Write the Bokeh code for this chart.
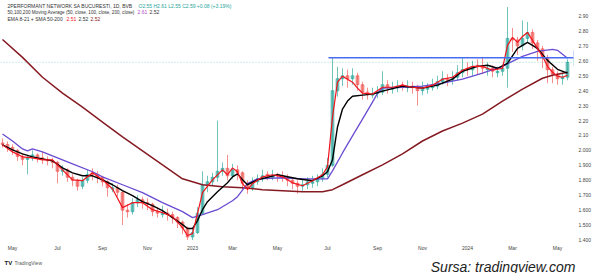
from bokeh.plotting import figure
from bokeh.layouts import column
from bokeh.models import Range1d, FixedTicker, Label, Span, ColumnDataSource
from bokeh.core.properties import value
from bokeh.embed import file_html
from bokeh.resources import INLINE

# ---- weekly-sampled candles (index 0 = mid April 2022, last = May 2024) ----
opens = [2.05,2.04,2.02,2.00,1.96,1.94,1.95,1.97,1.95,1.94,
         1.93,1.92,1.86,1.87,1.82,1.80,1.76,1.80,1.85,1.84,
         1.82,1.79,1.74,1.75,1.72,1.60,1.59,1.65,1.67,1.65,
         1.64,1.59,1.57,1.58,1.57,1.55,1.52,1.48,1.42,1.45,
         1.58,1.77,1.79,1.82,1.86,1.88,1.83,1.87,1.85,1.78,
         1.75,1.79,1.81,1.84,1.82,1.84,1.83,1.82,1.80,1.78,
         1.76,1.77,1.78,1.79,1.81,1.84,1.90,2.40,2.48,2.50,
         2.48,2.50,2.44,2.39,2.37,2.38,2.39,2.44,2.41,2.42,
         2.44,2.42,2.43,2.42,2.40,2.41,2.42,2.43,2.46,2.48,
         2.47,2.49,2.52,2.55,2.54,2.57,2.56,2.54,2.55,2.52,
         2.53,2.55,2.75,2.74,2.70,2.75,2.79,2.72,2.68,2.62,
         2.54,2.51,2.48,2.49]
highs = [2.08,2.06,2.04,2.01,1.98,1.97,2.00,1.98,1.99,1.96,
         1.95,1.93,1.90,1.88,1.84,1.81,1.82,1.87,1.88,1.86,
         1.83,1.80,1.78,1.77,1.73,1.64,1.68,1.70,1.69,1.68,
         1.65,1.62,1.63,1.61,1.59,1.56,1.53,1.49,1.48,1.62,
         1.86,1.83,1.85,2.20,1.92,1.97,1.91,1.90,1.86,1.80,
         1.82,1.84,1.87,1.86,1.87,1.85,1.86,1.84,1.82,1.80,
         1.81,1.82,1.83,1.84,1.88,1.95,2.62,2.56,2.55,2.54,
         2.55,2.52,2.46,2.42,2.42,2.43,2.53,2.47,2.46,2.47,
         2.46,2.47,2.46,2.44,2.46,2.45,2.48,2.50,2.53,2.51,
         2.53,2.57,2.62,2.59,2.60,2.61,2.62,2.59,2.57,2.56,
         2.58,2.96,2.82,2.76,2.87,2.86,2.81,2.74,2.70,2.64,
         2.56,2.53,2.52,2.61]
lows = [2.02,1.99,1.97,1.93,1.90,1.84,1.93,1.92,1.91,1.90,
        1.88,1.78,1.83,1.79,1.76,1.73,1.74,1.78,1.80,1.78,
        1.76,1.69,1.72,1.69,1.50,1.55,1.57,1.62,1.61,1.60,
        1.56,1.55,1.55,1.53,1.51,1.48,1.44,1.40,1.40,1.44,
        1.57,1.72,1.76,1.79,1.83,1.80,1.81,1.80,1.74,1.71,
        1.73,1.77,1.79,1.80,1.80,1.79,1.79,1.76,1.74,1.71,
        1.73,1.74,1.75,1.76,1.79,1.82,1.89,2.36,2.43,2.42,
        2.44,2.40,2.34,2.34,2.35,2.35,2.37,2.38,2.38,2.39,
        2.40,2.39,2.38,2.30,2.37,2.38,2.40,2.41,2.44,2.43,
        2.44,2.47,2.49,2.50,2.50,2.51,2.51,2.50,2.49,2.49,
        2.50,2.42,2.66,2.64,2.67,2.72,2.68,2.60,2.55,2.45,
        2.45,2.44,2.44,2.47]
closes = [2.04,2.02,2.00,1.96,1.94,1.95,1.97,1.95,1.94,1.93,
          1.92,1.86,1.87,1.82,1.80,1.76,1.80,1.84,1.84,1.82,
          1.79,1.75,1.75,1.72,1.60,1.59,1.65,1.67,1.65,1.64,
          1.59,1.58,1.58,1.57,1.55,1.52,1.48,1.42,1.45,1.58,
          1.77,1.79,1.82,1.86,1.88,1.83,1.87,1.85,1.78,1.75,
          1.79,1.81,1.83,1.83,1.83,1.83,1.82,1.80,1.78,1.76,
          1.77,1.79,1.79,1.81,1.84,1.90,2.40,2.48,2.50,2.48,
          2.50,2.44,2.39,2.38,2.38,2.39,2.44,2.42,2.42,2.43,
          2.43,2.43,2.42,2.40,2.42,2.42,2.43,2.46,2.48,2.47,
          2.49,2.52,2.54,2.54,2.56,2.56,2.55,2.55,2.53,2.53,
          2.55,2.75,2.74,2.70,2.75,2.79,2.72,2.68,2.62,2.54,
          2.51,2.48,2.49,2.59]

# ---- moving averages ----
ema8_idx = [0,2,4,6,8,10,12,14,16,18,20,22,24,26,28,30,32,34,36,37,38,39,40,42,44,45,46,47,48,49,
            50,52,54,56,58,60,62,64,65,66,67,68,70,71,72,74,76,78,80,82,84,86,88,90,92,94,96,98,100,101,
            102,103,104,105,106,107,108,109,110,111,112,113]
ema8_val = [2.037,1.99,1.957,1.95,1.937,1.937,1.87,1.803,1.797,1.85,1.803,1.743,1.617,1.65,1.65,1.603,1.583,1.557,1.483,1.43,
            1.443,1.577,1.717,1.803,1.87,1.837,1.883,1.857,1.777,1.737,1.777,1.823,1.837,1.823,1.783,1.763,1.797,1.837,1.89,2.223,
            2.457,2.497,2.457,2.417,2.383,2.377,2.423,2.423,2.437,2.423,2.417,2.437,2.477,2.49,2.537,2.563,2.563,2.537,2.55,2.703,
            2.757,2.723,2.763,2.79,2.737,2.683,2.63,2.563,2.523,2.497,2.49,2.503]
ema21_idx = [0,2,4,6,8,10,12,14,16,18,20,22,24,26,28,30,32,34,36,37,38,39,40,41,43,45,46,47,48,49,
             51,55,59,62,64,65,66,67,68,69,70,72,74,76,80,84,87,90,92,95,97,99,101,103,105,107,109,111,113]
ema21_val = [2.037,2.003,1.977,1.957,1.943,1.93,1.883,1.85,1.83,1.83,1.803,1.77,1.73,1.697,1.657,1.63,1.597,1.55,1.503,1.477,
             1.477,1.53,1.603,1.657,1.723,1.783,1.823,1.843,1.803,1.77,1.803,1.837,1.81,1.797,1.83,1.857,1.937,2.157,2.277,2.33,
             2.363,2.37,2.377,2.397,2.43,2.417,2.437,2.477,2.53,2.563,2.57,2.55,2.583,2.683,2.723,2.683,2.603,2.543,2.517]
sma50_idx = [0,2,4,5,6,8,10,14,18,20,24,28,32,36,38,40,43,46,47,49,
             51,56,60,65,66,68,70,72,74,75,76,80,84,88,92,96,100,104,107,110,111,113]
sma50_val = [2.11,2.063,2.01,1.997,2.01,1.99,1.963,1.91,1.857,1.823,1.77,1.717,1.65,1.59,1.55,1.57,1.603,1.663,1.69,1.777,
             1.81,1.817,1.81,1.81,1.863,1.983,2.097,2.21,2.323,2.383,2.417,2.423,2.43,2.45,2.477,2.517,2.563,2.63,2.663,2.677,
             2.67,2.617]
sma200_idx = [0,4,8,12,16,20,24,28,32,36,40,44,48,52,56,60,64,66,68,72,76,80,84,88,92,96,100,104,108,110,113]
sma200_val = [2.743,2.623,2.49,2.383,2.29,2.19,2.09,1.997,1.903,1.81,1.77,1.757,1.75,1.737,1.73,1.723,1.723,1.737,1.77,1.837,
              1.903,1.977,2.063,2.13,2.183,2.243,2.33,2.41,2.483,2.503,2.523]

# horizontal level drawn on the chart
hline_level = 2.62
hline_start = 65.2
last_price = 2.59

# ---- axis ticks ----
x_tick_pos = [2, 11, 20, 29, 38, 46, 55, 65, 75, 84, 93, 102, 111]
x_tick_lab = ["May", "Jul", "Sep", "Nov", "2023", "Mar", "May", "Jul", "Sep", "Nov", "2024", "Mar", "May"]
y_tick_pos = [1.4, 1.5, 1.6, 1.7, 1.8, 1.9, 2.0, 2.1, 2.2, 2.3, 2.4, 2.5, 2.6, 2.7, 2.8, 2.9]
y_tick_lab = ["1.400", "1.500", "1.600", "1.700", "1.800", "1.900", "2.000", "2.10", "2.20", "2.30",
              "2.40", "2.50", "2.60", "2.70", "2.80", "2.90"]

UP = "#26a69a"
DOWN = "#ef5350"
FONT = "Liberation Sans"

n = len(closes)
idx = list(range(n))
colors = [UP if c >= o else DOWN for o, c in zip(opens, closes)]
src = ColumnDataSource(dict(x=idx, o=opens, h=highs, l=lows, c=closes,
                            top=[max(o, c) for o, c in zip(opens, closes)],
                            bot=[min(o, c) for o, c in zip(opens, closes)],
                            color=colors))

p = figure(frame_width=573, frame_height=240, output_backend="svg", toolbar_location=None,
           x_range=Range1d(-0.4, 114.2), y_range=Range1d(1.3967, 3.0038),
           y_axis_location="right", min_border_left=0, min_border_top=0,
           min_border_right=27, min_border_bottom=13)
p.outline_line_color = None
p.xgrid.visible = False
p.ygrid.visible = False
p.background_fill_color = "white"
p.border_fill_color = "white"

# last price dotted line
p.add_layout(Span(location=last_price, dimension="width", line_color=UP, line_alpha=0.45,
                  line_width=1, line_dash="1 2"))

p.segment(x0="x", y0="l", x1="x", y1="h", source=src, color="color", line_alpha=0.65, line_width=1)
p.vbar(x="x", top="top", bottom="bot", width=0.55, source=src, fill_color="color",
       line_color="color", fill_alpha=0.55, line_alpha=0.65)

p.line(sma200_idx, sma200_val, line_color="#861a22", line_width=1.5)
p.line(sma50_idx, sma50_val, line_color="#6a4bd1", line_width=1.3)
p.line(ema21_idx, ema21_val, line_color="#000000", line_width=1.4)
p.line(ema8_idx, ema8_val, line_color="#f0141e", line_width=1.2)
p.segment(x0=[hline_start], y0=[hline_level], x1=[114.2], y1=[hline_level],
          line_color="#4a6cf0", line_width=1.5)

# axes
p.xaxis.ticker = FixedTicker(ticks=x_tick_pos)
p.xaxis.major_label_overrides = dict(zip(x_tick_pos, x_tick_lab))
p.yaxis.ticker = FixedTicker(ticks=y_tick_pos)
p.yaxis.major_label_overrides = dict(zip(y_tick_pos, y_tick_lab))
for ax in (p.xaxis, p.yaxis):
    ax.axis_line_color = None
    ax.major_tick_line_color = None
    ax.minor_tick_line_color = None
    ax.major_tick_out = 0
    ax.major_tick_in = 0
    ax.major_label_text_font = FONT
    ax.major_label_text_font_size = "5px"
    ax.major_label_text_color = "#444444"
p.xaxis.major_label_standoff = 4
p.yaxis.major_label_standoff = 5

def lab(x, y, text, color, size="5px", **kw):
    p.add_layout(Label(x=x, y=y, x_units="screen", y_units="screen", text=text,
                       text_color=color, text_font=FONT, text_font_size=size,
                       text_baseline="middle", **kw))

# legend rows (top-left), y measured from the frame bottom (frame is 240 px tall)
lab(7, 235, "2PERFORMANT NETWORK SA BUCURESTI, 1D, BVB", "#333333")
lab(138, 235, "O2.55  H2.61  L2.55  C2.59  +0.08 (+3.19%)", UP)
lab(7, 228.5, "50,100,200 Moving Average (50, close, 100, close, 200, close)", "#333333", size="4.6px")
lab(137, 228.5, "2.61", "#b24fc9")
lab(149, 228.5, "2.52", "#333333")
lab(7, 222, "EMA 8-21 + SMA 50-200", "#333333")
lab(66, 222, "2.51", "#f0141e")
lab(78, 222, "2.52", "#333333")
lab(90, 222, "2.52", "#861a22")

# currency on the price scale
lab(580, 235, "RON", "#444444")

# price tags
p.add_layout(Label(x=573, y=2.643, x_units="screen", y_units="data", text="2.62",
                   text_color="white", text_font=FONT, text_font_size="5px",
                   text_baseline="middle", background_fill_color="#3a62f2",
                   padding=2))
p.add_layout(Label(x=573, y=2.592, x_units="screen", y_units="data", text="2.58",
                   text_color="white", text_font=FONT, text_font_size="5px",
                   text_baseline="middle", background_fill_color=UP,
                   padding=2))

# ---- footer strip ----
f = figure(frame_width=600, frame_height=20, output_backend="svg", toolbar_location=None,
           x_range=Range1d(0, 600), y_range=Range1d(0, 20),
           x_axis_type=None, y_axis_type=None,
           min_border_left=0, min_border_right=0, min_border_top=0, min_border_bottom=0)
f.outline_line_color = None
f.xgrid.visible = False
f.ygrid.visible = False
f.text(x=[4], y=[11], text=["TV"], text_font=value(FONT), text_font_size="6px",
       text_font_style="bold", text_color="#131722", text_baseline="middle")
f.text(x=[14], y=[11], text=["TradingView"], text_font=value(FONT), text_font_size="5px",
       text_color="#555555", text_baseline="middle")
f.text(x=[575], y=[7], text=["Sursa: tradingview.com"], text_font=value(FONT),
       text_font_size="14px", text_font_style="italic", text_color="#222222",
       text_baseline="alphabetic", text_align="right")

layout = column(p, f, spacing=0)
open("out.html", "w").write(file_html(layout, INLINE))
